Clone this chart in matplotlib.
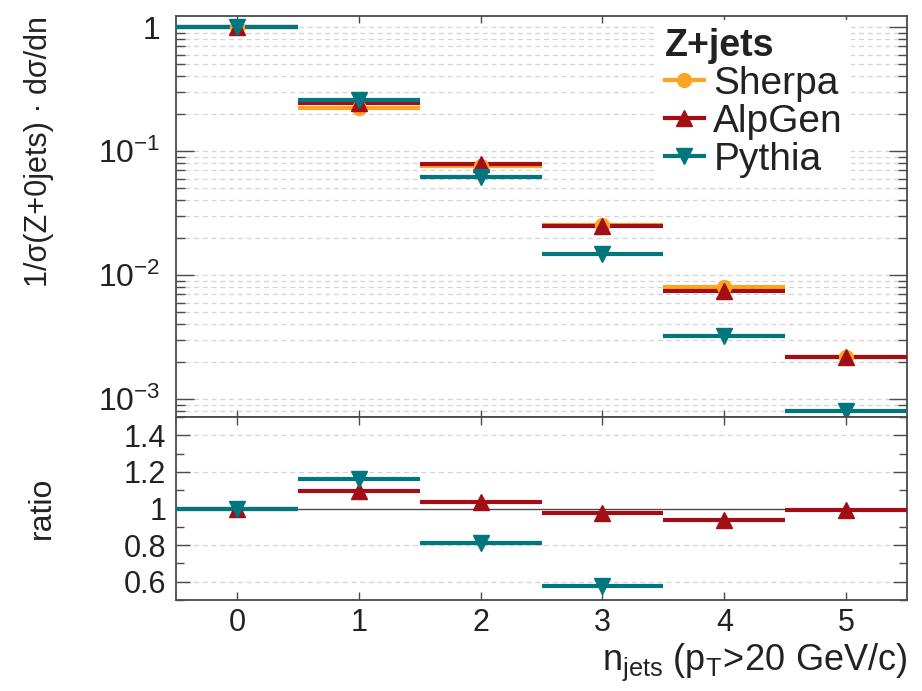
import matplotlib
matplotlib.use("Agg")
import matplotlib.pyplot as plt
from matplotlib.lines import Line2D
from matplotlib.ticker import FixedLocator, FuncFormatter, MultipleLocator, LogLocator, NullFormatter
import numpy as np

plt.rcParams['font.family'] = ['Liberation Sans', 'DejaVu Sans']
plt.rcParams['mathtext.fontset'] = 'custom'
plt.rcParams['mathtext.rm'] = 'Liberation Sans'
plt.rcParams['mathtext.it'] = 'Liberation Sans:italic'
plt.rcParams['mathtext.bf'] = 'Liberation Sans:bold'

# Normalised jet multiplicity, 1/sigma(Z+0jets) dsigma/dn
n_jets = [0, 1, 2, 3, 4, 5]
sherpa = [1.0, 0.222, 0.0762, 0.0255, 0.0080, 0.00220]
alpgen = [1.0, 0.243, 0.0787, 0.0249, 0.0075, 0.00218]
pythia = [1.0, 0.258, 0.0619, 0.01465, 0.00325, 0.00080]

generators = ["Sherpa", "AlpGen", "Pythia"]
colors = {"Sherpa": "#ffa322", "AlpGen": "#a30d16", "Pythia": "#00767e"}
markers = {"Sherpa": "o", "AlpGen": "^", "Pythia": "v"}
msizes = {"Sherpa": 10, "AlpGen": 11, "Pythia": 11}
series = {"Sherpa": sherpa, "AlpGen": alpgen, "Pythia": pythia}

W, H = 922, 691
fig = plt.figure(figsize=(W / 100, H / 100), dpi=100)

def frac(x0, y0, x1, y1):
    return [x0 / W, 1 - y1 / H, (x1 - x0) / W, (y1 - y0) / H]

ax = fig.add_axes(frac(176, 16, 907, 417))
axr = fig.add_axes(frac(176, 417, 907, 600), sharex=ax)

frame_col = "#4a4a4a"
grid_col = "#d4d4d4"
text_col = "#222222"
dash = (0, (4, 3))

x = np.array(n_jets, dtype=float)

# upper panel: distributions
for g in generators:
    ax.errorbar(x, series[g], xerr=0.5, fmt=markers[g], color=colors[g],
                ms=msizes[g], elinewidth=3.0, capsize=0, zorder=3)

ax.set_yscale("log")
ax.set_xlim(-0.5, 5.5)
ax.set_ylim(10 ** -3.145, 10 ** 0.089)
ax.yaxis.set_major_locator(LogLocator(base=10, numticks=10))
ax.yaxis.set_minor_locator(LogLocator(base=10, subs=np.arange(2, 10), numticks=20))
ax.yaxis.set_minor_formatter(NullFormatter())

def log_label(v, pos):
    k = int(round(np.log10(v)))
    if k == 0:
        return "1"
    return r"$\mathregular{10^{%d}}$" % k

ax.yaxis.set_major_formatter(FuncFormatter(log_label))
ax.grid(True, which="both", axis="y", color=grid_col, linestyle=dash, linewidth=0.9, zorder=0)
ax.set_axisbelow(True)
ax.tick_params(axis="x", which="both", direction="in", top=True, bottom=True,
               labelbottom=False, length=5, width=1.0, color=frame_col)
ax.tick_params(axis="y", which="major", direction="in", left=True, right=True,
               length=13, width=1.0, color=frame_col, labelsize=23, pad=11,
               labelcolor=text_col)
ax.tick_params(axis="y", which="minor", direction="in", left=True, right=True,
               length=6.5, width=1.0, color=frame_col)

# lower panel: ratio to Sherpa
axr.grid(False)
axr.axhline(1.0, color=frame_col, lw=1.0, zorder=2)
for g in ["AlpGen", "Pythia"]:
    ratio = np.array(series[g]) / np.array(sherpa)
    axr.errorbar(x, ratio, xerr=0.5, fmt=markers[g], color=colors[g],
                 ms=msizes[g], elinewidth=3.0, capsize=0, zorder=3)

axr.set_ylim(0.5, 1.5)
axr.yaxis.set_major_locator(FixedLocator([0.6, 0.8, 1.0, 1.2, 1.4]))
axr.yaxis.set_minor_locator(MultipleLocator(0.1))
axr.yaxis.set_major_formatter(FuncFormatter(lambda v, p: f"{v:g}"))
axr.xaxis.set_major_locator(FixedLocator(n_jets))
axr.xaxis.set_major_formatter(FuncFormatter(lambda v, p: f"{v:g}"))
for yv in [0.6, 0.8, 1.2, 1.4]:
    axr.axhline(yv, color=grid_col, linestyle=dash, linewidth=0.9, zorder=0)
axr.tick_params(axis="x", which="both", direction="in", top=True, bottom=True,
                length=6, width=1.0, color=frame_col, labelsize=22, pad=6,
                labelcolor=text_col)
axr.tick_params(axis="y", which="major", direction="in", left=True, right=True,
                length=10, width=1.0, color=frame_col, labelsize=22, pad=7,
                labelcolor=text_col)
axr.tick_params(axis="y", which="minor", direction="in", left=True, right=True,
                length=5.5, width=1.0, color=frame_col)

for a in (ax, axr):
    for s in a.spines.values():
        s.set_color(frame_col)
        s.set_linewidth(1.3)

# axis titles
fig.text(39 / W, 1 - 16 / H, r"1/σ(Z+0jets) · dσ/dn", rotation=90,
         ha="center", va="top", fontsize=22, color=text_col)
fig.text(42 / W, 1 - 508 / H, "ratio", rotation=90, ha="center", va="center",
         fontsize=23, color=text_col)
fig.text(907 / W, 1 - 670 / H,
         r"$\mathregular{n_{jets}\ (p_{T}\!>\!20\ GeV/c)}$",
         ha="right", va="baseline", fontsize=26, color=text_col)

# legend
handles = [Line2D([0], [0], color=colors[g], marker=markers[g], ms=msizes[g], lw=3)
           for g in generators]
leg = ax.legend(handles, generators, title="Z+jets", loc="upper left",
                bbox_to_anchor=(657 / W, 1 - 20 / H), bbox_transform=fig.transFigure,
                fontsize=28, title_fontproperties={"weight": "bold", "size": 27},
                alignment="left", frameon=True, facecolor="white", edgecolor="none",
                framealpha=1.0, fancybox=False, handlelength=1.0, handletextpad=0.25,
                labelspacing=0.05, borderpad=0.2, borderaxespad=0)
leg.set_zorder(5)
for t in leg.get_texts():
    t.set_color(text_col)
leg.get_title().set_color(text_col)

fig.savefig("out.png", dpi=100)
